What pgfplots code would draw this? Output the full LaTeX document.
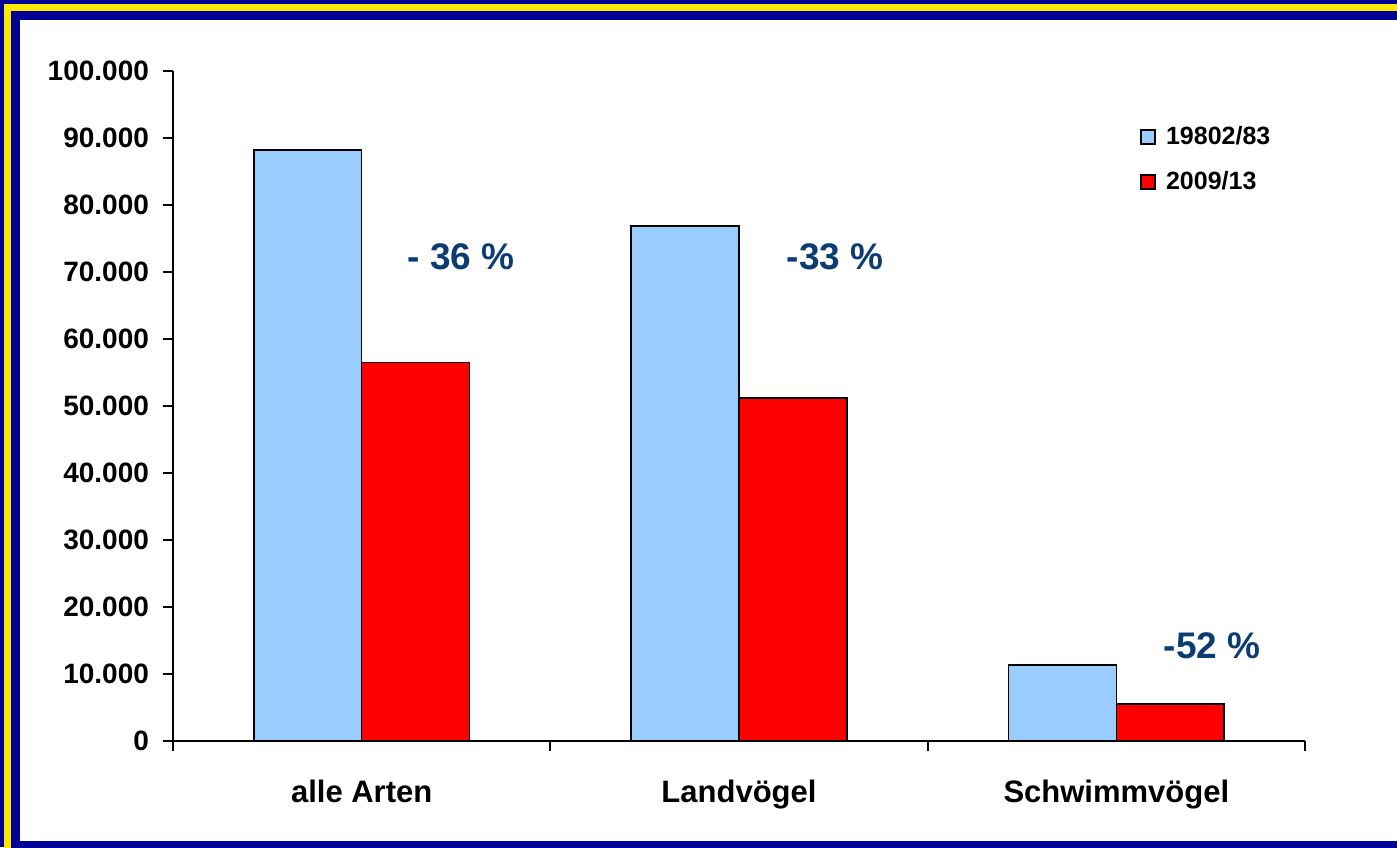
\documentclass[border=0pt]{standalone}
\usepackage{pgfplots}
\pgfplotsset{compat=1.18}
\usepackage{fontspec}
\setmainfont{Liberation Sans}
\definecolor{lblue}{HTML}{99CCFF}
\definecolor{fblue}{HTML}{000099}
\definecolor{fyellow}{HTML}{FFE600}
\definecolor{atext}{HTML}{0B3C72}
\begin{document}
\begin{tikzpicture}
% frame (1 px = 0.5pt, axis origin at pixel 173,741)
\useasboundingbox (-86.5pt,-53pt) rectangle (612pt,370.5pt);
\clip (-86.5pt,-53pt) rectangle (612pt,370.5pt);
\fill[fblue] (-86.5pt,-53pt) rectangle (612pt,370.5pt);
\fill[fyellow] (-84.5pt,-60pt) rectangle (620pt,368.5pt);
\fill[fblue] (-81pt,-60pt) rectangle (620pt,365pt);
\fill[white] (-76.5pt,-50pt) rectangle (620pt,360.5pt);
\begin{axis}[
    scale only axis, width=566pt, height=335pt,
    ybar=0pt, bar width=0.286,
    xmin=-0.5, xmax=2.5, ymin=0, ymax=100000,
    axis x line*=bottom, axis y line*=left,
    axis line style={-, line width=0.9pt},
    tick style={line width=0.9pt, black},
    tick align=outside, major tick length=5pt,
    ytick={0,10000,...,100000},
    xtick={-0.5,0.5,1.5,2.5}, xticklabels={},
    extra x ticks={0,1,2},
    extra x tick labels={alle Arten,Landvögel,Schwimmvögel},
    extra x tick style={major tick length=0pt,
        xticklabel style={font=\fontsize{15.5}{18}\selectfont\bfseries, yshift=-16pt}},
    yticklabel style={font=\fontsize{14}{16}\selectfont\bfseries, xshift=-3.5pt,
        /pgf/number format/fixed, /pgf/number format/1000 sep={.},
        /pgf/number format/assume math mode=true},
    scaled y ticks=false,
    legend cell align=left,
    legend style={draw=none, fill=none, at={(0.849,0.93)}, anchor=north west,
        font=\fontsize{12.5}{15}\selectfont\bfseries, row sep=8pt,
        /tikz/every odd column/.append style={column sep=3pt}},
    legend image code/.code={\draw[#1, draw=black, line width=0.8pt] (0pt,-3.5pt) rectangle (7pt,3.5pt);},
]
\addplot[fill=lblue, draw=black, line width=0.8pt] coordinates {(0,88200) (1,76900) (2,11300)};
\addplot[fill=red, draw=black, line width=0.8pt] coordinates {(0,56500) (1,51200) (2,5500)};
\legend{19802/83, 2009/13}
\node[text=atext, font=\fontsize{18.5}{22}\selectfont\bfseries] at (axis cs:0.263,72200) {- 36 \%};
\node[text=atext, font=\fontsize{18.5}{22}\selectfont\bfseries] at (axis cs:1.255,72200) {-33 \%};
\node[text=atext, font=\fontsize{18.5}{22}\selectfont\bfseries] at (axis cs:2.254,14200) {-52 \%};
\end{axis}
\end{tikzpicture}
\end{document}
